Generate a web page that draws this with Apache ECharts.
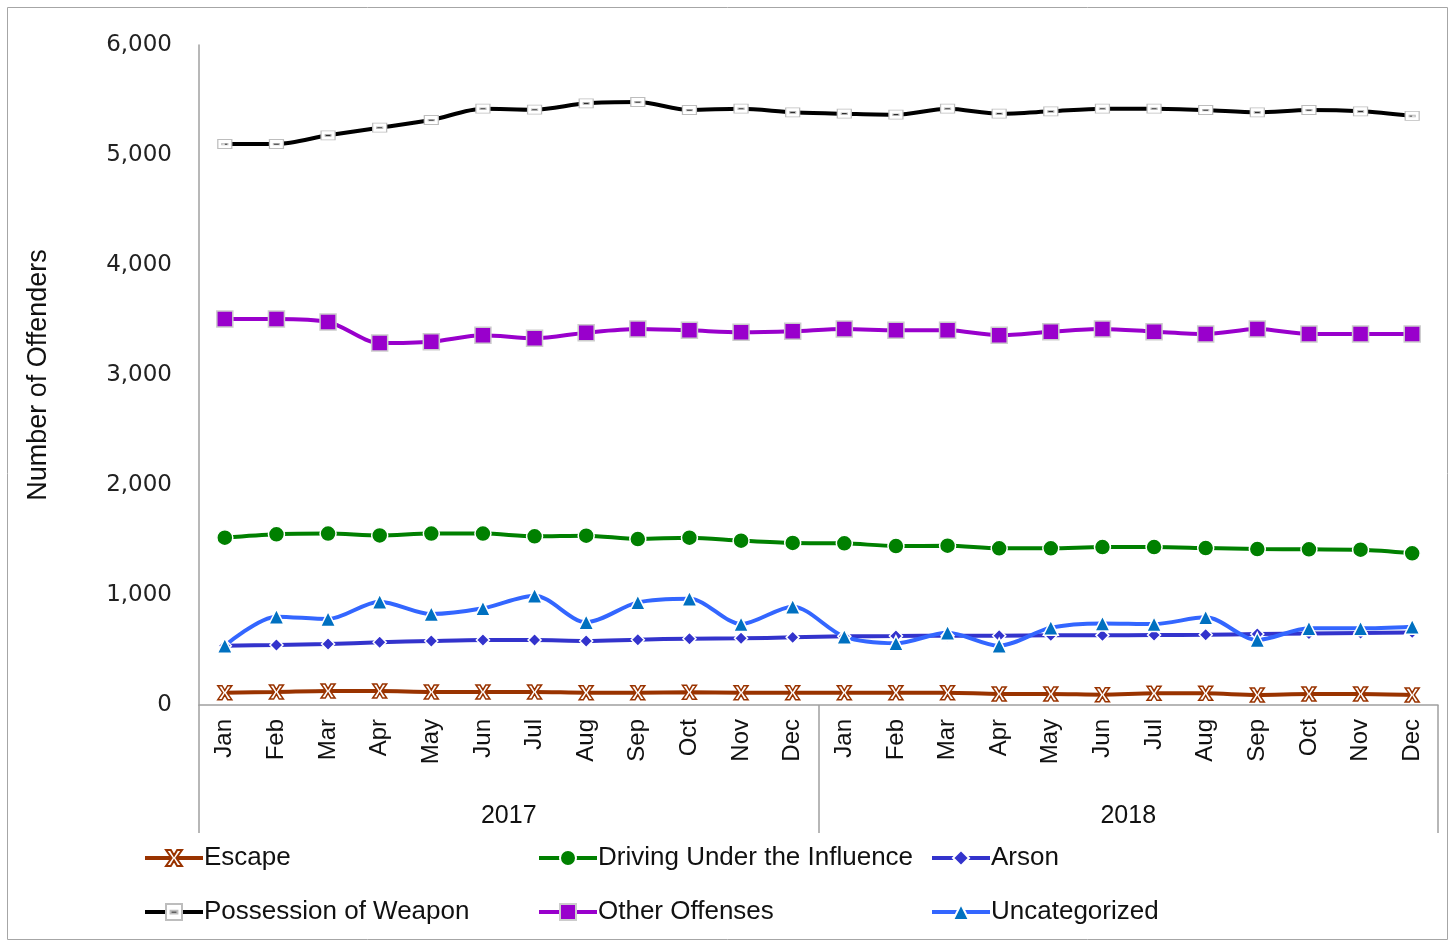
<!DOCTYPE html>
<html lang="en">
<head>
    <meta charset="UTF-8">
    <title>Offenders by offense</title>
    <script src="https://cdn.jsdelivr.net/npm/echarts@6/dist/echarts.min.js"></script>
    <style>
        html, body { margin: 0; padding: 0; background: #fff; }
        #main { width: 1455px; height: 943px; }
    </style>
</head>
<body>
<div id="main"></div>
<script type="text/javascript">
    // data
    const months = ['Jan', 'Feb', 'Mar', 'Apr', 'May', 'Jun', 'Jul', 'Aug', 'Sep', 'Oct', 'Nov', 'Dec',
        'Jan', 'Feb', 'Mar', 'Apr', 'May', 'Jun', 'Jul', 'Aug', 'Sep', 'Oct', 'Nov', 'Dec']
    const years = ['2017', '2018']
    const yTicks = [0, 1000, 2000, 3000, 4000, 5000, 6000]

    const escape = [112, 118, 127, 127, 118, 118, 118, 112, 112, 115, 112, 112,
        112, 112, 112, 100, 100, 94, 106, 106, 91, 100, 100, 91]
    const dui = [1521, 1552, 1558, 1542, 1558, 1558, 1533, 1539, 1509, 1521, 1494, 1473,
        1470, 1445, 1448, 1424, 1424, 1436, 1436, 1427, 1418, 1415, 1412, 1379]
    const arson = [539, 545, 555, 570, 582, 591, 591, 582, 594, 603, 606, 615,
        624, 627, 630, 630, 633, 633, 636, 639, 645, 650, 655, 660]
    const weapon = [5100, 5100, 5179, 5248, 5318, 5421, 5412, 5470, 5482, 5409, 5421, 5388,
        5376, 5367, 5421, 5376, 5397, 5421, 5421, 5409, 5388, 5409, 5397, 5355]
    const other = [3509, 3509, 3482, 3291, 3303, 3361, 3333, 3385, 3418, 3406, 3388, 3397,
        3418, 3406, 3406, 3361, 3394, 3418, 3394, 3373, 3418, 3373, 3373, 3373]
    const uncategorized = [539, 803, 782, 939, 827, 879, 994, 752, 933, 967, 736, 894,
        621, 561, 657, 539, 703, 742, 736, 797, 591, 697, 697, 712]

    const sans = "'Liberation Sans', Arial, sans-serif"

    let chart = echarts.init(document.getElementById('main'))

    function line(name, data, color, symbol, size, itemStyle) {
        return {
            name: name,
            type: 'line',
            data: data,
            smooth: 0.3,
            symbol: symbol,
            symbolSize: size,
            showSymbol: true,
            lineStyle: {color: color, width: 4},
            itemStyle: itemStyle,
            emphasis: {disabled: true}
        }
    }

    // white x on brown, and white box with a slot so the black line shows through
    const escapeMark = 'path://M0,0L3,0L5,3.5L7,0L10,0L6.5,5L10,10L7,10L5,6.5L3,10L0,10L3.5,5Z'
    const weaponMark = 'path://M0,0L14,0L14,9L0,9ZM4,3.8L4,5.4L10,5.4L10,3.8Z'

    let option = {
        backgroundColor: '#fff',
        animation: false,
        graphic: [{
            type: 'rect',
            shape: {x: 7.5, y: 7.5, width: 1440, height: 932},
            style: {fill: 'none', stroke: '#a6a6a6', lineWidth: 1},
            silent: true
        }],
        grid: [
            {left: 199, right: 17, top: 45, bottom: 238},
            {left: 199, right: 17, top: 45, bottom: 238}
        ],
        xAxis: [{
            type: 'category',
            gridIndex: 0,
            data: months,
            boundaryGap: true,
            axisLine: {lineStyle: {color: '#a0a0a0', width: 1.5}},
            axisTick: {show: false},
            axisLabel: {
                rotate: 90, interval: 0, margin: 14,
                color: '#111', fontSize: 24, fontFamily: sans
            },
            splitLine: {show: false}
        }, {
            type: 'category',
            gridIndex: 1,
            data: years,
            boundaryGap: true,
            axisLine: {show: false},
            axisTick: {show: true, length: 128, lineStyle: {color: '#a0a0a0', width: 1.5}},
            axisLabel: {margin: 99, color: '#111', fontSize: 25, fontFamily: sans},
            splitLine: {show: false}
        }],
        yAxis: [{
            type: 'value',
            gridIndex: 0,
            min: yTicks[0],
            max: yTicks[yTicks.length - 1],
            interval: 1000,
            name: 'Number of Offenders',
            nameLocation: 'middle',
            nameGap: 147,
            nameTextStyle: {color: '#111', fontSize: 27, fontFamily: sans},
            axisLine: {show: true, lineStyle: {color: '#a0a0a0', width: 1.5}},
            axisTick: {show: false},
            axisLabel: {
                margin: 27, color: '#222', fontSize: 23, fontFamily: "'DejaVu Sans', sans-serif",
                formatter: v => v.toLocaleString('en-US')
            },
            splitLine: {show: false}
        }, {
            type: 'value',
            gridIndex: 1,
            show: false
        }],
        legend: [
            {left: 143, top: 845, orient: 'vertical', itemGap: 28, data: ['Escape', 'Possession of Weapon']},
            {left: 537, top: 845, orient: 'vertical', itemGap: 28, data: ['Driving Under the Influence', 'Other Offenses']},
            {left: 930, top: 845, orient: 'vertical', itemGap: 28, data: ['Arson', 'Uncategorized']}
        ].map(l => Object.assign(l, {
            itemWidth: 58, itemHeight: 20, padding: 0,
            lineStyle: {width: 4},
            textStyle: {color: '#111', fontSize: 26, fontFamily: sans, padding: [0, 0, 0, -4]},
            selectedMode: false
        })),
        series: [
            line('Escape', escape, '#993300', escapeMark, 14,
                {color: '#ffffff', borderColor: '#993300', borderWidth: 1.5}),
            line('Driving Under the Influence', dui, '#008000', 'circle', 16,
                {color: '#008000', borderColor: '#ffffff', borderWidth: 1.5}),
            line('Arson', arson, '#3333cc', 'diamond', 13,
                {color: '#3333cc', borderColor: '#ffffff', borderWidth: 1.5}),
            line('Possession of Weapon', weapon, '#000000', weaponMark, [14, 9],
                {color: '#ffffff', borderColor: '#bdbdbd', borderWidth: 1}),
            line('Other Offenses', other, '#9900cc', 'rect', 16,
                {color: '#9900cc', borderColor: '#cccccc', borderWidth: 1.5}),
            line('Uncategorized', uncategorized, '#3366ff', 'triangle', 15,
                {color: '#0070c0', borderColor: '#ffffff', borderWidth: 1.5})
        ]
    }
    chart.setOption(option)
</script>
</body>
</html>
